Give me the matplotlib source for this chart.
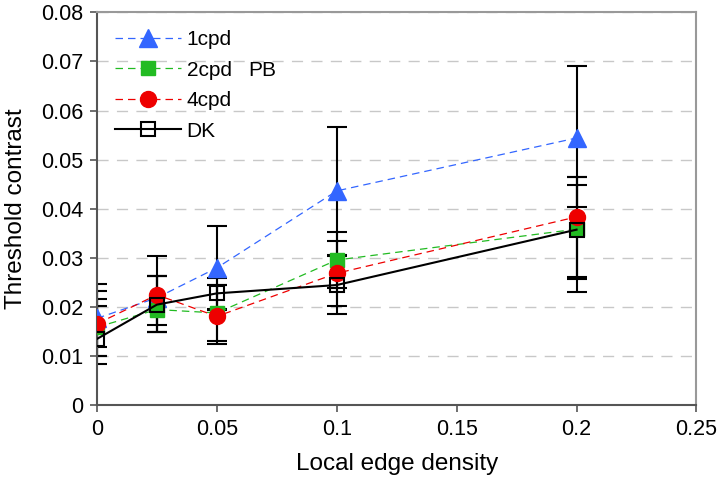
import matplotlib
matplotlib.use("Agg")
import matplotlib.pyplot as plt
import numpy as np

plt.rcParams['font.family'] = ['Liberation Sans', 'DejaVu Sans']

# local edge density
density = [0, 0.025, 0.05, 0.1, 0.2]

# threshold contrast, with upper / lower end of each error bar
c1 = [0.0176, 0.0218, 0.0279, 0.0436, 0.0544]
c1_top = [0.0246, 0.0263, 0.0365, 0.0566, 0.0690]
c1_bot = [0.0100, 0.0163, 0.0193, 0.0306, 0.0404]

c2 = [0.0158, 0.0194, 0.0187, 0.0295, 0.0358]
c2_top = [0.0215, 0.0263, 0.0244, 0.0352, 0.0465]
c2_bot = [0.0118, 0.0149, 0.0129, 0.0238, 0.0257]

c4 = [0.0165, 0.0224, 0.0180, 0.0268, 0.0383]
c4_top = [0.0231, 0.0303, 0.0244, 0.0334, 0.0449]
c4_bot = [0.0100, 0.0149, 0.0124, 0.0202, 0.0261]

dk = [0.0134, 0.0204, 0.0227, 0.0244, 0.0357]
dk_top = [0.0202, 0.0263, 0.0258, 0.0303, 0.0465]
dk_bot = [0.0083, 0.0149, 0.0196, 0.0185, 0.0229]

series = [
    ("1cpd", c1, c1_top, c1_bot, "#3366ff", "^", 12.5, (0, (6, 4)), 0.9),
    ("2cpd", c2, c2_top, c2_bot, "#22bb22", "s", 10.5, (0, (6, 4)), 0.9),
    ("4cpd", c4, c4_top, c4_bot, "#ee0000", "o", 11.5, (0, (6, 4)), 0.9),
]

fig = plt.figure(figsize=(7.18, 4.8), dpi=100)
ax = fig.add_axes([0.135, 0.157, 0.835, 0.817])

# error bars first (all black)
for name, y, top, bot, col, mk, ms, ls, lw in series + [("DK", dk, dk_top, dk_bot, "k", "s", 10, "-", 1.5)]:
    y = np.array(y)
    err = [y - np.array(bot), np.array(top) - y]
    ax.errorbar(density, y, yerr=err, fmt="none", ecolor="black",
                elinewidth=1.5, capsize=7, capthick=1.5, zorder=2)

handles = []
for name, y, top, bot, col, mk, ms, ls, lw in series:
    h, = ax.plot(density, y, color=col, linestyle=ls, linewidth=lw,
                 marker=mk, markersize=ms, markerfacecolor=col,
                 markeredgecolor=col, label=name, zorder=3)
    handles.append(h)

h, = ax.plot(density, dk, color="black", linestyle="-", linewidth=1.5,
             marker="s", markersize=10, markerfacecolor="none",
             markeredgecolor="black", markeredgewidth=1.5, label="DK", zorder=4)
handles.append(h)

ax.set_xlim(0, 0.25)
ax.set_ylim(0, 0.08)
ax.set_xticks([0, 0.05, 0.1, 0.15, 0.2, 0.25])
ax.set_xticklabels(["0", "0.05", "0.1", "0.15", "0.2", "0.25"])
ax.set_yticks(np.arange(0, 0.081, 0.01))
ax.set_yticklabels(["0", "0.01", "0.02", "0.03", "0.04", "0.05", "0.06", "0.07", "0.08"])

ax.yaxis.grid(True, color="#c8c8c8", linestyle=(0, (8, 6)), linewidth=1)
ax.set_axisbelow(True)

for side in ["left", "bottom"]:
    ax.spines[side].set_color("#555555")
    ax.spines[side].set_linewidth(1.5)
for side in ["top", "right"]:
    ax.spines[side].set_color("#999999")
    ax.spines[side].set_linewidth(1.5)

ax.tick_params(axis="both", labelsize=15.5, color="#555555", width=1.2,
               length=5, direction="out", pad=5)

ax.set_xlabel("Local edge density", fontsize=17.5, labelpad=10)
ax.set_ylabel("Threshold contrast", fontsize=17.5, labelpad=10)

ax.legend(handles=handles, loc="upper left", frameon=False, fontsize=15,
          handlelength=3.2, handletextpad=0.25, labelspacing=0.55,
          bbox_to_anchor=(0.0, 1.0), borderaxespad=0.45)
ax.text(0.063, 0.0682, "PB", fontsize=15, va="center", ha="left")

fig.savefig("out.png", dpi=100)
